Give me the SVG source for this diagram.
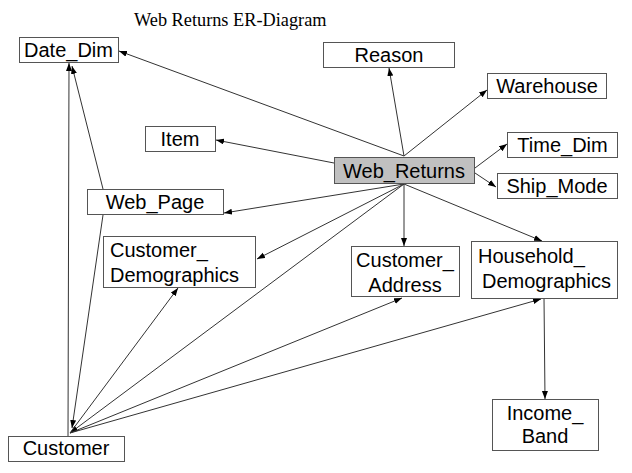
<svg xmlns="http://www.w3.org/2000/svg" width="632" height="473" viewBox="0 0 632 473">
<style>
.box{fill:#fff;stroke:#555;stroke-width:1}
.hub{fill:#c0c0c0;stroke:#555;stroke-width:1}
.t{font-family:"Liberation Sans",Arial,sans-serif;font-size:20px;fill:#000}
.c{text-anchor:middle}
.title{font-family:"Liberation Serif","Times New Roman",serif;font-size:18.3px;fill:#000}
.ln{stroke:#333;stroke-width:1;fill:none;marker-end:url(#ah)}
</style>
<defs>
<marker id="ah" markerUnits="userSpaceOnUse" markerWidth="9" markerHeight="7" refX="8" refY="3" orient="auto">
<path d="M0,0 L8,3 L0,6 z" fill="#000"/>
</marker>
</defs>
<rect width="632" height="473" fill="#fff"/>
<text class="title" x="134" y="26">Web Returns ER-Diagram</text>
<g id="connectors">
<line class="ln" x1="404" y1="156" x2="119" y2="51"/>
<line class="ln" x1="404" y1="156" x2="389" y2="68"/>
<line class="ln" x1="404" y1="156" x2="487" y2="90"/>
<line class="ln" x1="334" y1="163" x2="216" y2="140"/>
<line class="ln" x1="475" y1="168" x2="507" y2="144"/>
<line class="ln" x1="475" y1="173" x2="496" y2="187"/>
<line class="ln" x1="404" y1="184" x2="224" y2="213"/>
<line class="ln" x1="404" y1="184" x2="257" y2="259"/>
<line class="ln" x1="404" y1="184" x2="70" y2="433"/>
<line class="ln" x1="404" y1="184" x2="404" y2="246"/>
<line class="ln" x1="404" y1="184" x2="542" y2="241"/>
<line class="ln" x1="103" y1="189" x2="72" y2="66"/>
<line class="ln" x1="103" y1="215" x2="72" y2="428"/>
<line class="ln" x1="68" y1="436" x2="69" y2="63"/>
<line class="ln" x1="70" y1="433" x2="178" y2="288"/>
<line class="ln" x1="70" y1="433" x2="402" y2="298"/>
<line class="ln" x1="70" y1="433" x2="541" y2="299"/>
<line class="ln" x1="544" y1="298" x2="545" y2="399"/>
</g>
<g id="date_dim"><rect class="box" x="19.5" y="37.5" width="99" height="25"/><text class="t c" x="68.5" y="57">Date_Dim</text></g>
<g id="reason"><rect class="box" x="323.5" y="42.5" width="131" height="25"/><text class="t c" x="389" y="62">Reason</text></g>
<g id="warehouse"><rect class="box" x="487.5" y="73.5" width="119" height="25"/><text class="t c" x="547" y="93">Warehouse</text></g>
<g id="item"><rect class="box" x="145.5" y="126.5" width="70" height="25"/><text class="t c" x="180" y="146">Item</text></g>
<g id="time_dim"><rect class="box" x="507.5" y="132.5" width="110" height="25"/><text class="t c" x="562.5" y="152">Time_Dim</text></g>
<g id="web_returns"><rect class="hub" x="334.5" y="157.5" width="140" height="26"/><text class="t c" x="404" y="178">Web_Returns</text></g>
<g id="ship_mode"><rect class="box" x="497.5" y="173.5" width="120" height="25"/><text class="t c" x="557" y="193">Ship_Mode</text></g>
<g id="web_page"><rect class="box" x="87.5" y="189.5" width="136" height="25"/><text class="t c" x="155" y="209">Web_Page</text></g>
<g id="customer_demographics"><rect class="box" x="103.5" y="236.5" width="152" height="51"/><text class="t" x="110" y="257">Customer_</text><text class="t" x="110" y="282">Demographics</text></g>
<g id="customer_address"><rect class="box" x="351.5" y="246.5" width="108" height="50"/><text class="t c" x="405" y="267">Customer_</text><text class="t c" x="405" y="292">Address</text></g>
<g id="household_demographics"><rect class="box" x="471.5" y="241.5" width="146" height="57"/><text class="t" x="478" y="263">Household_</text><text class="t" x="482" y="288">Demographics</text></g>
<g id="income_band"><rect class="box" x="492.5" y="399.5" width="106" height="51"/><text class="t c" x="545" y="420">Income_</text><text class="t c" x="545" y="443">Band</text></g>
<g id="customer"><rect class="box" x="8.5" y="436.5" width="116" height="25"/><text class="t c" x="66" y="455">Customer</text></g>
</svg>
